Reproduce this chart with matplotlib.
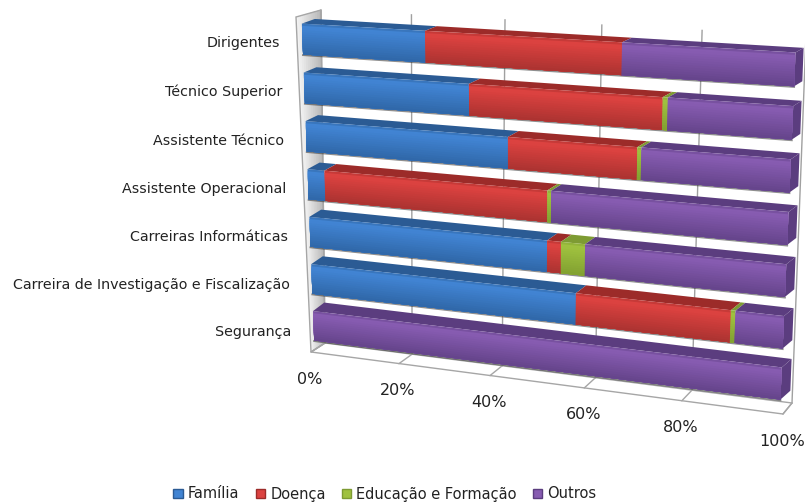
import numpy as np
import matplotlib
matplotlib.use('Agg')
import matplotlib.pyplot as plt
from matplotlib.patches import Polygon, Patch

categories = ['Dirigentes', 'Técnico Superior', 'Assistente Técnico', 'Assistente Operacional',
              'Carreiras Informáticas', 'Carreira de Investigação e Fiscalização', 'Segurança']
series_names = ['Família', 'Doença', 'Educação e Formação', 'Outros']
familia = [26.6, 35.7, 43.8, 3.8, 52.0, 58.1, 0]
doenca = [40.2, 39.3, 26.4, 48.2, 2.9, 31.5, 0]
educacao = [0, 1.0, 0.8, 0.8, 5.0, 0.9, 0]
outros = [33.2, 24.0, 29.0, 47.2, 40.1, 9.5, 100]
tick_values = [0, 20, 40, 60, 80, 100]

# light (top of front face), dark (bottom of front face), top face
colours = [('#4184d3', '#2f66a6', '#2b5b94'),
           ('#dc4240', '#a93230', '#9c2b29'),
           ('#9fc13f', '#809f30', '#7e9b33'),
           ('#875cb1', '#634389', '#5b3d7f')]

R = 0.917  # perspective along the value axis
Q = 1.03  # perspective down the rows
GAP = 0.185


def project(corners, v, u):
    tl, tr, br, bl = [np.array(c, dtype=float) for c in corners]
    t = v * R / (1 - v + v * R)
    left = tl + (bl - tl) * u
    right = tr + (br - tr) * u
    return left + (right - left) * t


front = [(301.5, 14.5), (796, 42.5), (780, 409), (314.5, 349)]
offset = [(13, -4.5), (8, -4.5), (10, -9), (11, -9)]
back_wall = [(321, 10), (806, 36), (792, 403), (325, 343)]
floor_front = [(311, 352), (783, 414)]
floor_back = [(325, 343), (792, 403)]
wall_left = [(296, 17), (321, 10), (325, 343), (311, 352)]

n_rows = len(categories)


def bar_point(v, row_pos, depth=0.0):
    u = row_pos / n_rows
    u = u * Q / (1 - u + u * Q)
    p = project(front, v, u)
    if depth:
        p = p + depth * project(offset, v, u)
    return p


def mix(c1, c2, a):
    c1 = np.array(matplotlib.colors.to_rgb(c1))
    c2 = np.array(matplotlib.colors.to_rgb(c2))
    return tuple(c1 + (c2 - c1) * a)


fig = plt.figure(figsize=(8.05, 5.03), dpi=100)
ax = fig.add_axes([0, 0, 1, 1])
ax.set_xlim(0, 805)
ax.set_ylim(503, 0)
ax.axis('off')

# left wall, shaded across its depth
l0, r0, r1, l1 = [np.array(c, dtype=float) for c in wall_left]
for k in range(12):
    a0 = k / 12
    poly = [l0 + (r0 - l0) * a0, r0, r1, l1 + (r1 - l1) * a0]
    col = mix('#f2f2f2', '#b4b4b4', a0)
    ax.add_patch(Polygon(poly, closed=True, fc=col, ec='none', zorder=1))
ax.add_patch(Polygon(wall_left, closed=True, fc='none', ec='#a6a6a6', lw=1.0, zorder=2))

# back wall gridlines and floor
ax.add_patch(Polygon([floor_front[0], floor_front[1], floor_back[1], floor_back[0]], closed=True,
                     fc='white', ec='#a6a6a6', lw=1.0, zorder=1))
floor_corners = [floor_back[0], floor_back[1], floor_front[1], floor_front[0]]
for tick in tick_values:
    v = tick / 100
    top = project(back_wall, v, 0)
    bottom = project(back_wall, v, 1)
    ax.plot([top[0], bottom[0]], [top[1], bottom[1]], color='#a0a0a0', lw=1.0, zorder=1)
    fb = project(floor_corners, v, 1)
    bb = project(floor_corners, v, 0)
    ax.plot([fb[0], bb[0]], [fb[1], bb[1]], color='#a6a6a6', lw=1.0, zorder=1)
    ax.text(fb[0] - 1, fb[1] + 27, str(tick) + '%', ha='center', va='center',
            fontsize=11.5, color='#222222', zorder=5)

# bars, top row first so lower rows sit in front
values = np.array([familia, doenca, educacao, outros], dtype=float)
for i in range(n_rows):
    y_top = i + GAP
    y_bot = i + 1 - GAP
    z = 10 + i
    # soft shadow under the bar
    s0, s1 = bar_point(0, y_bot), bar_point(1, y_bot)
    ax.plot([s0[0], s1[0]], [s0[1] + 0.6, s1[1] + 0.6], color='#333333', lw=1.4, alpha=0.55, zorder=z)
    # end cap
    cap = colours[3][2]
    ax.add_patch(Polygon([bar_point(1, y_top), bar_point(1, y_top, 1),
                          bar_point(1, y_bot, 1), bar_point(1, y_bot)],
                         closed=True, fc=cap, ec='none', zorder=z))
    start = 0.0
    for j in range(4):
        val = values[j][i] / 100
        if val == 0:
            continue
        end = start + val
        light, dark, top_col = colours[j]
        # top face
        ax.add_patch(Polygon([bar_point(start, y_top), bar_point(end, y_top),
                              bar_point(end, y_top, 1), bar_point(start, y_top, 1)],
                             closed=True, fc=top_col, ec='none', zorder=z))
        # front face, painted from the top down so the gradient has no seams
        for k in range(14):
            a0 = k / 14
            h0 = y_top + (y_bot - y_top) * a0
            col = mix(light, dark, max(0, a0 - 0.12) / 0.88)
            if k == 0:
                col = mix(light, top_col, 0.35)
            ax.add_patch(Polygon([bar_point(start, h0), bar_point(end, h0),
                                  bar_point(end, y_bot), bar_point(start, y_bot)],
                                 closed=True, fc=col, ec='none', zorder=z + 0.1 + 0.01 * k))
        start = end
    # category label
    mid = bar_point(0, i + 0.5)
    ax.text(mid[0] - 22, mid[1] + 3.5 + 0.5 * i, categories[i], ha='right', va='center',
            fontsize=10.3, color='#222222', zorder=5)

handles = [Patch(facecolor=colours[j][0], edgecolor=colours[j][2], label=series_names[j]) for j in range(4)]
leg = ax.legend(handles=handles, ncol=4, loc='center', bbox_to_anchor=(385 / 805, 1 - 494 / 503),
                frameon=False, fontsize=10.5, handlelength=0.65, handleheight=0.65,
                handletextpad=0.35, columnspacing=1.1, borderpad=0, labelcolor='#222222')

plt.savefig('out.png', dpi=100)
